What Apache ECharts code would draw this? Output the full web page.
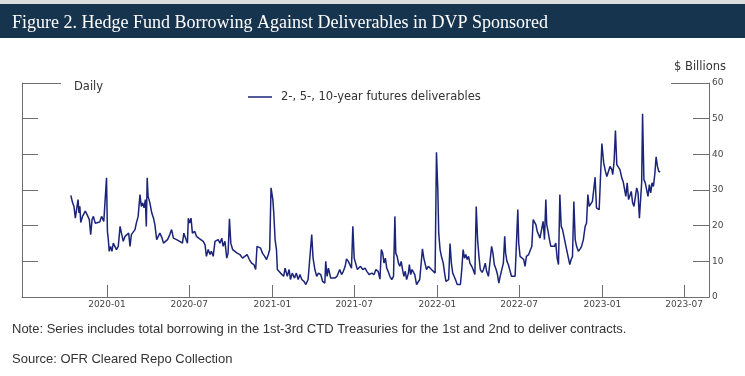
<!DOCTYPE html>
<html>
<head>
<meta charset="utf-8">
<script src="https://cdn.jsdelivr.net/npm/echarts@6/dist/echarts.min.js"></script>
<style>
  html, body { margin: 0; padding: 0; background: #fff; }
  #chart { width: 745px; height: 376px; }
</style>
</head>
<body>
<div id="chart"></div>
<script>
// daily borrowing, $ billions
var dates = [
  '2019-10-13','2019-10-17','2019-10-20','2019-10-23','2019-10-26','2019-10-29','2019-10-31','2019-11-02','2019-11-04','2019-11-08',
  '2019-11-14','2019-11-18','2019-11-23','2019-11-26','2019-11-29','2019-12-02','2019-12-06','2019-12-10','2019-12-16','2019-12-20',
  '2019-12-25','2019-12-28','2019-12-31','2020-01-02','2020-01-04','2020-01-06','2020-01-09','2020-01-12','2020-01-15','2020-01-18',
  '2020-01-22','2020-01-26','2020-01-30','2020-02-02','2020-02-06','2020-02-10','2020-02-13','2020-02-18','2020-02-21','2020-02-24',
  '2020-02-28','2020-03-03','2020-03-06','2020-03-10','2020-03-14','2020-03-17','2020-03-20','2020-03-23','2020-03-26','2020-03-28',
  '2020-03-30','2020-04-01','2020-04-05','2020-04-09','2020-04-13','2020-04-16','2020-04-20','2020-04-24','2020-04-27','2020-05-02',
  '2020-05-05','2020-05-09','2020-05-14','2020-05-19','2020-05-23','2020-05-27','2020-06-03','2020-06-10','2020-06-16','2020-06-19',
  '2020-06-24','2020-06-27','2020-06-29','2020-07-02','2020-07-05','2020-07-08','2020-07-13','2020-07-17','2020-07-22','2020-07-26',
  '2020-08-01','2020-08-05','2020-08-08','2020-08-12','2020-08-16','2020-08-19','2020-08-23','2020-08-27','2020-08-31','2020-09-03',
  '2020-09-07','2020-09-11','2020-09-14','2020-09-18','2020-09-22','2020-09-25','2020-09-28','2020-10-01','2020-10-05','2020-10-10',
  '2020-10-15','2020-10-21','2020-10-27','2020-11-01','2020-11-06','2020-11-11','2020-11-16','2020-11-21','2020-11-25','2020-11-28',
  '2020-12-01','2020-12-06','2020-12-10','2020-12-15','2020-12-19','2020-12-23','2020-12-26','2020-12-29','2021-01-02','2021-01-04',
  '2021-01-07','2021-01-10','2021-01-12','2021-01-16','2021-01-19','2021-01-23','2021-01-26','2021-01-29','2021-02-03','2021-02-07',
  '2021-02-10','2021-02-14','2021-02-19','2021-02-23','2021-02-27','2021-03-03','2021-03-07','2021-03-12','2021-03-16','2021-03-21',
  '2021-03-25','2021-03-29','2021-04-01','2021-04-05','2021-04-09','2021-04-13','2021-04-18','2021-04-22','2021-04-27','2021-04-29',
  '2021-05-02','2021-05-05','2021-05-10','2021-05-14','2021-05-19','2021-05-24','2021-05-30','2021-06-03','2021-06-07','2021-06-11',
  '2021-06-14','2021-06-18','2021-06-22','2021-06-25','2021-06-28','2021-07-01','2021-07-05','2021-07-08','2021-07-12','2021-07-15',
  '2021-07-20','2021-07-25','2021-07-29','2021-08-03','2021-08-09','2021-08-14','2021-08-18','2021-08-23','2021-08-27','2021-08-30',
  '2021-09-02','2021-09-05','2021-09-08','2021-09-11','2021-09-14','2021-09-18','2021-09-22','2021-09-26','2021-09-29','2021-10-01',
  '2021-10-04','2021-10-07','2021-10-10','2021-10-13','2021-10-16','2021-10-19','2021-10-22','2021-10-25','2021-10-29','2021-10-31',
  '2021-11-03','2021-11-06','2021-11-09','2021-11-12','2021-11-16','2021-11-20','2021-11-23','2021-11-26','2021-11-29','2021-12-02',
  '2021-12-05','2021-12-08','2021-12-12','2021-12-16','2021-12-19','2021-12-23','2021-12-27','2021-12-30','2022-01-02','2022-01-04',
  '2022-01-07','2022-01-10','2022-01-14','2022-01-17','2022-01-20','2022-01-23','2022-01-26','2022-01-29','2022-02-01','2022-02-04',
  '2022-02-07','2022-02-10','2022-02-14','2022-02-18','2022-02-21','2022-02-24','2022-02-27','2022-03-02','2022-03-05','2022-03-08',
  '2022-03-11','2022-03-14','2022-03-18','2022-03-21','2022-03-25','2022-03-28','2022-03-31','2022-04-03','2022-04-06','2022-04-10',
  '2022-04-13','2022-04-17','2022-04-20','2022-04-24','2022-04-27','2022-05-01','2022-05-04','2022-05-07','2022-05-11','2022-05-14',
  '2022-05-17','2022-05-20','2022-05-24','2022-05-27','2022-05-30','2022-06-01','2022-06-04','2022-06-07','2022-06-11','2022-06-14',
  '2022-06-18','2022-06-22','2022-06-25','2022-06-28','2022-06-30','2022-07-03','2022-07-07','2022-07-11','2022-07-14','2022-07-17',
  '2022-07-22','2022-07-26','2022-07-29','2022-08-01','2022-08-04','2022-08-07','2022-08-10','2022-08-13','2022-08-16','2022-08-20',
  '2022-08-23','2022-08-26','2022-08-29','2022-08-31','2022-09-03','2022-09-06','2022-09-09','2022-09-13','2022-09-17','2022-09-20',
  '2022-09-23','2022-09-26','2022-09-29','2022-10-02','2022-10-05','2022-10-08','2022-10-11','2022-10-14','2022-10-18','2022-10-21',
  '2022-10-24','2022-10-27','2022-10-30','2022-11-02','2022-11-05','2022-11-09','2022-11-13','2022-11-16','2022-11-20','2022-11-24',
  '2022-11-27','2022-11-30','2022-12-03','2022-12-06','2022-12-10','2022-12-13','2022-12-16','2022-12-19','2022-12-22','2022-12-25',
  '2022-12-28','2022-12-31','2023-01-04','2023-01-08','2023-01-11','2023-01-14','2023-01-18','2023-01-22','2023-01-24','2023-01-27',
  '2023-01-30','2023-02-02','2023-02-05','2023-02-09','2023-02-13','2023-02-16','2023-02-20','2023-02-22','2023-02-25','2023-02-28',
  '2023-03-03','2023-03-06','2023-03-09','2023-03-12','2023-03-15','2023-03-18','2023-03-21','2023-03-24','2023-03-27','2023-03-29',
  '2023-03-31','2023-04-03','2023-04-06','2023-04-09','2023-04-12','2023-04-15','2023-04-18','2023-04-21','2023-04-24','2023-04-27',
  '2023-04-30','2023-05-03','2023-05-06','2023-05-09'
];
var values = [
  28.5,26.4,25.4,22.1,21.9,27.3,23.6,25.4,20.9,22.6,
  24.1,23.1,21.7,17.5,21.7,22.6,20.7,21.2,21.0,22.6,
  21.2,20.9,33.4,18.4,16.1,12.8,14.2,12.8,15.1,15.6,
  13.3,14.2,19.8,17.9,15.6,17.0,17.5,17.9,14.2,17.5,
  17.0,18.9,20.7,22.6,28.7,25.4,26.4,25.0,27.3,19.8,
  33.4,28.2,26.4,23.6,22.1,20.3,16.1,16.5,17.9,16.5,
  15.1,15.6,16.1,17.5,18.9,16.5,16.1,15.6,15.1,17.9,
  16.1,15.1,22.1,20.7,22.1,17.9,18.4,17.0,16.5,16.1,
  15.6,14.6,11.4,13.3,11.9,12.8,11.4,15.6,15.1,16.1,
  15.1,16.5,14.2,15.6,10.9,12.3,21.9,15.1,13.3,12.8,
  12.3,11.9,10.9,11.4,11.9,10.5,9.5,9.1,7.7,14.2,
  13.7,13.7,12.3,11.4,10.5,11.9,13.3,30.6,27.3,23.6,
  16.1,13.3,7.7,7.2,6.7,7.2,5.8,8.1,5.8,7.7,
  4.9,6.7,5.3,6.7,4.9,6.3,4.9,4.4,3.5,4.9,
  4.9,17.5,10.9,7.7,5.8,6.7,6.3,4.4,3.9,10.0,
  5.8,8.1,5.3,4.9,5.3,5.8,7.7,6.3,7.2,8.6,
  10.7,10.0,9.5,8.1,19.8,10.9,10.7,7.7,7.2,8.6,
  7.7,8.1,7.2,6.3,6.7,6.3,7.7,7.2,5.0,13.3,
  12.3,9.5,10.9,8.1,7.2,5.8,4.9,5.8,22.6,12.3,
  11.4,9.5,8.6,10.0,7.7,5.8,7.2,4.9,6.7,9.1,
  6.3,7.7,7.2,6.3,3.5,3.9,4.9,5.3,13.5,10.9,
  10.5,7.7,8.6,8.1,7.7,7.2,6.7,40.6,30.1,17.9,
  13.3,11.4,9.5,6.7,4.4,3.9,4.9,15.0,9.5,6.7,
  5.8,4.9,3.5,3.0,3.5,7.7,13.3,10.9,11.9,10.5,
  11.4,9.5,8.6,7.7,6.3,25.4,16.1,11.4,7.7,6.9,
  7.7,9.5,7.2,5.8,6.3,14.2,12.3,9.1,7.7,6.3,
  3.9,5.8,6.3,9.5,17.0,12.3,10.0,9.1,7.2,5.8,
  5.3,5.8,5.3,24.5,15.1,11.4,10.9,10.5,8.6,11.4,
  11.9,12.3,14.2,21.7,21.2,20.3,18.4,17.5,16.5,16.1,
  21.2,16.1,27.3,20.3,18.4,16.1,14.2,13.7,14.2,15.1,
  10.9,9.1,28.7,19.8,18.9,17.0,15.1,13.3,10.9,9.1,
  10.5,11.4,26.8,16.1,14.2,12.8,13.5,14.2,16.1,19.8,
  20.7,28.7,25.4,25.9,26.8,30.1,33.6,25.0,25.4,24.5,
  33.8,43.0,37.6,35.2,33.8,34.3,36.6,35.7,34.3,38.0,
  46.7,37.1,37.6,35.7,33.4,32.4,32.0,28.2,32.0,27.3,
  26.8,29.6,26.4,25.4,25.4,30.6,29.2,22.1,22.6,32.0,
  51.4,32.9,32.0,32.4,28.2,31.5,29.2,32.0,31.0,34.3,
  39.3,36.6,35.2,35.0
];
var xTicks = ['2020-01','2020-07','2021-01','2021-07','2022-01','2022-07','2023-01','2023-07'];
var seriesName = '2-, 5-, 10-year futures deliverables';

var chart = echarts.init(document.getElementById('chart'));
var axisGray = '#6e6e6e';
var lineBlue = '#1b2478';
function toTime(s) { return echarts.time.parse(s).getTime(); }
var tickVals = xTicks.map(function (t) { return toTime(t + '-01'); });
var lineData = dates.map(function (d, i) { return [toTime(d), values[i]]; });

chart.setOption({
  backgroundColor: '#fff',
  animation: false,
  grid: { left: 22, right: 36, top: 83, bottom: 79 },
  legend: {
    left: 248, top: 91, padding: 0,
    icon: 'rect',
    itemWidth: 24, itemHeight: 1.5,
    itemStyle: { color: lineBlue },
    textStyle: { fontFamily: 'DejaVu Sans', fontSize: 11.5, color: '#333', padding: [0, 0, 0, 4] },
    data: [seriesName]
  },
  xAxis: {
    type: 'value',
    min: toTime('2019-06-27'),
    max: toTime('2023-08-25'),
    axisLine: { lineStyle: { color: axisGray, width: 1 } },
    axisTick: { show: true, inside: true, length: 12, customValues: tickVals, lineStyle: { color: axisGray } },
    axisLabel: {
      customValues: tickVals, margin: 3, showMinLabel: true, showMaxLabel: true,
      fontFamily: 'DejaVu Sans', fontSize: 9, color: '#444',
      formatter: function (v) {
        var d = new Date(v);
        var m = d.getMonth() + 1;
        return d.getFullYear() + '-' + (m < 10 ? '0' + m : m);
      }
    },
    splitLine: { show: false }
  },
  yAxis: [
    {
      type: 'value', position: 'left', min: 0, max: 60, interval: 10,
      axisLine: { show: true, lineStyle: { color: axisGray } },
      axisTick: { show: true, inside: true, length: 16, lineStyle: { color: axisGray } },
      axisLabel: { show: false },
      splitLine: { show: false }
    },
    {
      type: 'value', position: 'right', min: 0, max: 60, interval: 10,
      name: '$ Billions', nameLocation: 'end', nameGap: 10,
      nameTextStyle: { fontFamily: 'DejaVu Sans', fontSize: 11.5, color: '#333', align: 'right', padding: [0, -17, 0, 0] },
      axisLine: { show: true, lineStyle: { color: axisGray } },
      axisTick: { show: true, inside: true, length: 16, lineStyle: { color: axisGray } },
      axisLabel: { margin: 3, fontFamily: 'DejaVu Sans', fontSize: 9, color: '#444' },
      splitLine: { show: false }
    }
  ],
  series: [{
    name: seriesName,
    type: 'line',
    yAxisIndex: 1,
    data: lineData,
    showSymbol: false,
    symbol: 'none',
    lineStyle: { color: lineBlue, width: 1.5 },
    itemStyle: { color: lineBlue }
  }],
  graphic: [
    { type: 'rect', left: 0, top: 0, shape: { width: 745, height: 4 }, style: { fill: '#dcdcdc' } },
    { type: 'rect', left: 0, top: 4, shape: { width: 745, height: 34 }, style: { fill: '#17344f' } },
    { type: 'text', left: 12, top: 14,
      style: { text: 'Figure 2. Hedge Fund Borrowing Against Deliverables in DVP Sponsored',
        fontFamily: 'Liberation Serif', fontSize: 18, fill: '#fff' } },
    { type: 'line', shape: { x1: 22, y1: 83.5, x2: 61, y2: 83.5 }, style: { stroke: axisGray, lineWidth: 1 } },
    { type: 'line', shape: { x1: 671, y1: 83.5, x2: 709, y2: 83.5 }, style: { stroke: axisGray, lineWidth: 1 } },
    { type: 'text', left: 74, top: 81,
      style: { text: 'Daily', fontFamily: 'DejaVu Sans', fontSize: 11.5, fill: '#333' } },
    { type: 'text', left: 12, top: 323,
      style: { text: 'Note: Series includes total borrowing in the 1st-3rd CTD Treasuries for the 1st and 2nd to deliver contracts.',
        fontFamily: 'Liberation Sans', fontSize: 13, fill: '#333' } },
    { type: 'text', left: 12, top: 353,
      style: { text: 'Source: OFR Cleared Repo Collection', fontFamily: 'Liberation Sans', fontSize: 13, fill: '#333' } }
  ]
});
</script>
</body>
</html>
